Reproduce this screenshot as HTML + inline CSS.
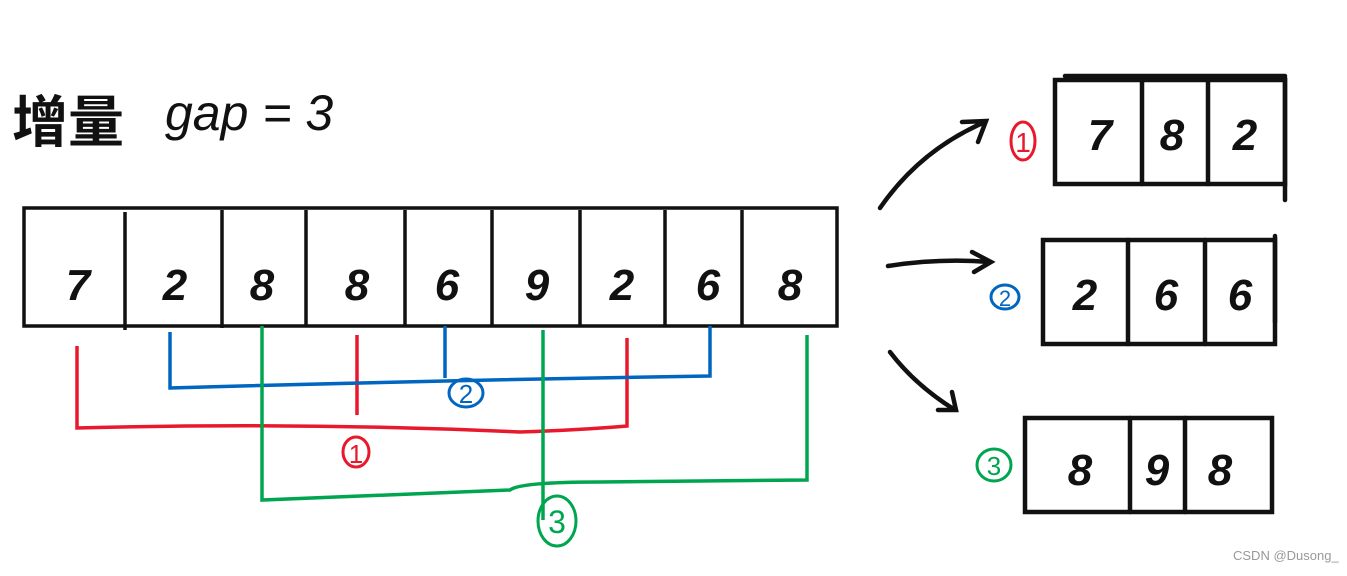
<!DOCTYPE html>
<html><head><meta charset="utf-8"><style>
body{margin:0;background:#fff;width:1347px;height:571px;overflow:hidden}
text{font-family:"Liberation Sans","Noto Sans CJK SC",sans-serif}
.n{font-size:44px;font-style:italic;font-weight:bold;fill:#111;text-anchor:middle}
</style></head><body>
<svg width="1347" height="571" viewBox="0 0 1347 571" xmlns="http://www.w3.org/2000/svg">
<text x="12" y="142" font-size="56" fill="#111" font-weight="bold" style="font-family:'Noto Sans CJK SC',sans-serif">增量</text>
<text x="165" y="130" font-size="50" font-style="italic" fill="#111">gap = 3</text>
<g stroke="#111" stroke-width="3.5" fill="none">
<rect x="24" y="208" width="813" height="118"/>
<path d="M125 212V330M222 210V328M306 210V326M405 210V326M492 210V326M580 210V326M665 210V326M742 210V326"/>
</g>
<text class="n" x="78" y="300">7</text><text class="n" x="175" y="300">2</text><text class="n" x="262" y="300">8</text><text class="n" x="357" y="300">8</text><text class="n" x="447" y="300">6</text><text class="n" x="537" y="300">9</text><text class="n" x="622" y="300">2</text><text class="n" x="708" y="300">6</text><text class="n" x="790" y="300">8</text>
<g stroke="#e8192c" stroke-width="3.5" fill="none"><path d="M77 346V428Q300 422 520 432Q580 430 627 426V338M357 335V415"/></g>
<g stroke="#0066c0" stroke-width="3.5" fill="none"><path d="M170 332V388Q450 380 710 376V326M445 326V378"/></g>
<g stroke="#00a550" stroke-width="3.5" fill="none"><path d="M262 326V500Q420 494 510 490Q520 482 600 482L807 480V335M543 330V520"/></g>
<ellipse cx="466" cy="393" rx="17" ry="14" fill="none" stroke="#0066c0" stroke-width="3"/><text x="466" y="403" font-size="26" fill="#0066c0" text-anchor="middle">2</text>
<ellipse cx="356" cy="452" rx="13" ry="15" fill="none" stroke="#e8192c" stroke-width="3"/><text x="356" y="463" font-size="26" fill="#e8192c" text-anchor="middle">1</text>
<ellipse cx="557" cy="521" rx="19" ry="25" fill="none" stroke="#00a550" stroke-width="3"/><text x="557" y="533" font-size="32" fill="#00a550" text-anchor="middle">3</text>
<g stroke="#111" stroke-width="4.5" fill="none" stroke-linecap="round">
<path d="M880 208Q920 150 985 122M962 122L986 121L978 142"/>
<path d="M888 266Q940 258 990 262M972 252L991 262L974 272"/>
<path d="M890 352Q915 385 955 410M938 410L956 410L952 392"/>
<rect x="1055" y="80" width="230" height="104"/><path d="M1142 80V184M1208 80V184M1285 78V200M1065 76H1285"/>
<rect x="1043" y="240" width="232" height="104"/><path d="M1128 240V344M1205 240V344M1275 236V322"/>
<rect x="1025" y="418" width="247" height="94"/><path d="M1130 418V512M1185 418V512"/>
</g>
<text class="n" x="1100" y="150">7</text><text class="n" x="1172" y="150">8</text><text class="n" x="1245" y="150">2</text>
<text class="n" x="1085" y="310">2</text><text class="n" x="1166" y="310">6</text><text class="n" x="1240" y="310">6</text>
<text class="n" x="1080" y="485">8</text><text class="n" x="1157" y="485">9</text><text class="n" x="1220" y="485">8</text>
<ellipse cx="1023" cy="141" rx="12" ry="19" fill="none" stroke="#e8192c" stroke-width="3"/><text x="1023" y="152" font-size="28" fill="#e8192c" text-anchor="middle">1</text>
<ellipse cx="1005" cy="297" rx="14" ry="12" fill="none" stroke="#0066c0" stroke-width="3"/><text x="1005" y="306" font-size="22" fill="#0066c0" text-anchor="middle">2</text>
<ellipse cx="994" cy="465" rx="17" ry="16" fill="none" stroke="#00a550" stroke-width="3"/><text x="994" y="475" font-size="26" fill="#00a550" text-anchor="middle">3</text>
<text x="1233" y="560" font-size="13" fill="#999">CSDN @Dusong_</text>
</svg>
</body></html>
